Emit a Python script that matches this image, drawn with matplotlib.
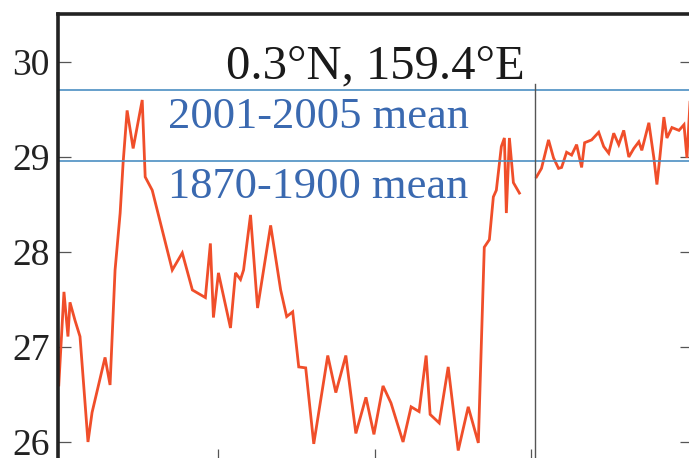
"""
Coral SST reconstruction at 0.3N, 159.4E: fossil segment and modern segment
with 1870-1900 and 2001-2005 mean levels.
"""

import matplotlib.pyplot as plt

# fossil coral segment (x in years from start of window, y in deg C)
fossil_x = [-0.4, 0.26, 0.77, 1.03, 1.67, 2.31, 3.33, 3.85, 5.51, 6.15,
            6.79, 7.44, 7.82, 8.33, 9.10, 10.26, 10.64, 11.54, 14.10, 15.38,
            16.67, 18.33, 18.97, 19.36, 20.0, 21.54, 22.18, 22.82, 23.21, 24.10,
            25.0, 26.67, 27.95, 28.72, 29.49, 30.26, 31.15, 32.18, 33.97, 35.0,
            36.28, 37.56, 38.85, 39.87, 41.03, 42.05, 43.59, 44.62, 45.64, 46.54,
            47.05, 48.21, 49.36, 50.64, 51.92, 53.21, 53.97, 54.62, 55.13, 55.51,
            56.15, 56.54, 56.79, 57.18, 57.69, 58.46]
fossil_y = [26.60, 27.58, 27.11, 27.47, 27.28, 27.11, 26.00, 26.31, 26.89, 26.60,
            27.81, 28.41, 28.94, 29.49, 29.09, 29.60, 28.79, 28.65, 27.81, 27.99,
            27.60, 27.52, 28.09, 27.31, 27.78, 27.20, 27.78, 27.71, 27.81, 28.39,
            27.41, 28.28, 27.60, 27.32, 27.37, 26.79, 26.78, 25.98, 26.91, 26.52,
            26.91, 26.09, 26.47, 26.08, 26.59, 26.41, 26.00, 26.37, 26.32, 26.91,
            26.29, 26.20, 26.79, 25.91, 26.37, 25.99, 28.05, 28.13, 28.58, 28.65,
            29.11, 29.20, 28.41, 29.20, 28.73, 28.62]

# modern segment
modern_x = [60.64, 61.28, 62.18, 62.82, 63.46, 63.85, 64.49, 65.13, 65.77, 66.41,
            66.79, 67.69, 68.59, 69.23, 69.87, 70.51, 71.15, 71.79, 72.44, 73.08,
            73.72, 74.10, 75.0, 75.64, 76.03, 76.41, 76.92, 77.31, 77.95, 78.85,
            79.49, 79.87, 80.38]
modern_y = [28.79, 28.88, 29.18, 28.99, 28.88, 28.89, 29.05, 29.02, 29.13, 28.89,
            29.15, 29.18, 29.26, 29.11, 29.04, 29.25, 29.13, 29.28, 29.00, 29.09,
            29.16, 29.07, 29.36, 28.99, 28.71, 29.00, 29.42, 29.20, 29.31, 29.28,
            29.34, 28.99, 29.76]

mean_1870_1900 = 28.96
mean_2001_2005 = 29.71
segment_break = 60.4
yticks = [26, 27, 28, 29, 30]
xticks = [20, 40, 60]
site_label = "0.3°N, 159.4°E"

LINE_RED = "#f04e2a"
MEAN_BLUE = "#4b8fc2"
TEXT_BLUE = "#3a69b0"


def main() -> None:
    plt.rcParams["font.family"] = ["Liberation Serif", "DejaVu Serif"]

    fig = plt.figure(figsize=(6.89, 4.58), dpi=100)
    ax = fig.add_axes([0.0842, -0.0044, 0.920, 0.9738])

    ax.plot(fossil_x, fossil_y, color=LINE_RED, linewidth=2.0, solid_joinstyle="miter")
    ax.plot(modern_x, modern_y, color=LINE_RED, linewidth=2.0, solid_joinstyle="miter")

    ax.axhline(mean_2001_2005, color=MEAN_BLUE, linewidth=1.2)
    ax.axhline(mean_1870_1900, color=MEAN_BLUE, linewidth=1.2)
    ax.axvline(segment_break, ymax=0.842, color="#555555", linewidth=1.0)

    ax.text(40.1, 29.83, site_label, ha="center", va="baseline",
            fontsize=35, color="#1a1a1a")
    ax.text(13.6, 29.305, "2001-2005 mean", ha="left", va="baseline",
            fontsize=32, color=TEXT_BLUE)
    ax.text(13.6, 28.57, "1870-1900 mean", ha="left", va="baseline",
            fontsize=32, color=TEXT_BLUE)

    ax.set_xlim(-0.5, 80.5)
    ax.set_ylim(25.81, 30.505)
    ax.set_yticks(yticks)
    ax.set_xticks(xticks)
    ax.set_xticklabels([])
    ax.tick_params(axis="y", direction="in", length=9, width=0.9, color="#555555",
                   labelsize=27, pad=6, right=True, labelcolor="#222222")
    ax.tick_params(axis="x", direction="in", length=8, width=0.9, color="#555555")

    for side in ("left", "top"):
        ax.spines[side].set_linewidth(2.6)
        ax.spines[side].set_color("#222222")
    ax.spines["right"].set_linewidth(1.0)
    ax.spines["bottom"].set_linewidth(1.0)

    fig.savefig("out.png", dpi=100)
    plt.close(fig)
    print("Saved → out.png")


if __name__ == "__main__":
    main()
